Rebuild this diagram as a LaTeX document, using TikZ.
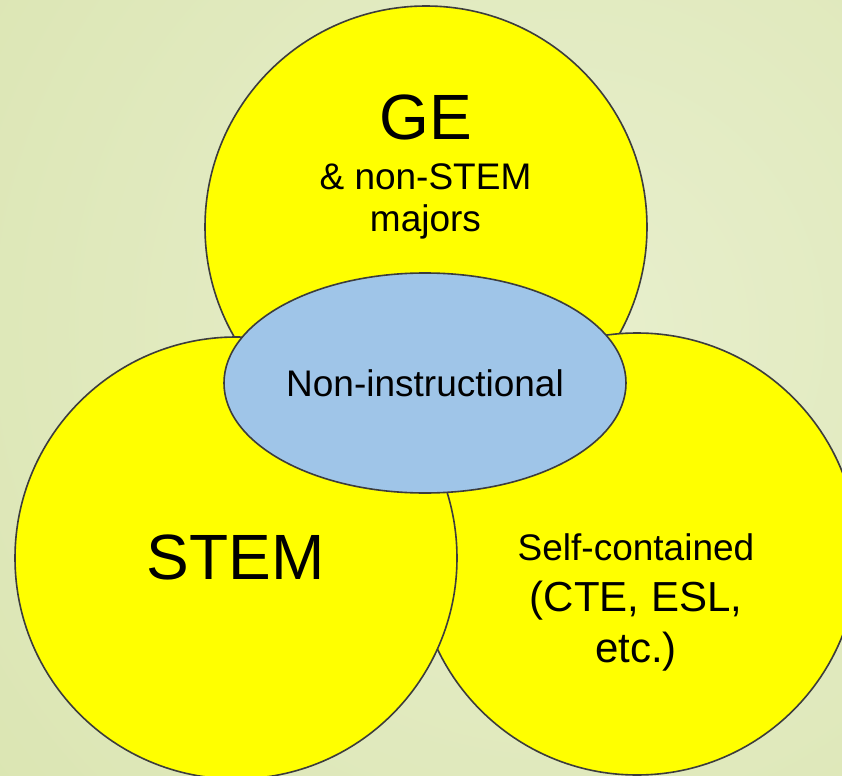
\documentclass[tikz,border=0pt]{standalone}
\usepackage{fontspec}
\setmainfont{Liberation Sans}
\usepackage{tikz}
\usetikzlibrary{shapes.geometric}
\definecolor{bglight}{RGB}{232,239,205}
\definecolor{bgdark}{RGB}{208,221,156}
\definecolor{discyellow}{RGB}{255,255,0}
\definecolor{rimgray}{RGB}{60,60,60}
\definecolor{lightblue}{RGB}{159,197,232}
\pgfdeclareradialshading{bgglow}{\pgfpoint{0bp}{0bp}}{color(0bp)=(bglight); color(50bp)=(bgdark)}

\tikzset{
    ring/.style={circle, draw=rimgray, fill=discyellow, line width=0.8pt, minimum size=221pt, inner sep=0pt},
    bigword/.style={font=\fontsize{32}{36}\selectfont},
    smallword/.style={font=\fontsize{18.5}{21}\selectfont, align=center}
}

\begin{document}
\begin{tikzpicture}[x=0.5pt, y=-0.5pt]
        \useasboundingbox (0,0) rectangle (842,776);
        % soft backdrop
        \begin{scope}
            \clip (0,0) rectangle (842,776);
            \shade[shading=bgglow] (-120,-350) rectangle (1240,1010);
        \end{scope}

        % the three groups
        \node[ring] (ge) at (426,227) {};
        \node[ring] (selfc) at (637,554) {};
        \node[ring] (stem) at (236,558) {};

        % overlap in the middle
        \node[ellipse, draw=rimgray, fill=lightblue, line width=0.8pt, minimum width=201pt, minimum height=110pt, inner sep=0pt, font=\fontsize{18.5}{21}\selectfont] (nonins) at (425,383) {Non-instructional};

        % labels
        \node[bigword] (getitle) at (425.5,117) {GE};
        \node[smallword] (gesub) at (425.5,201) {\& non-STEM\\majors};
        \node[bigword] (stemtitle) at (235.5,557) {STEM};
        \node[smallword, font=\fontsize{18.5}{25.5}\selectfont] (selfctext) at (636,602) {Self-contained\\\fontsize{21}{26}\selectfont (CTE, ESL,\\\fontsize{21}{26}\selectfont etc.)};
    \end{tikzpicture}
\end{document}
